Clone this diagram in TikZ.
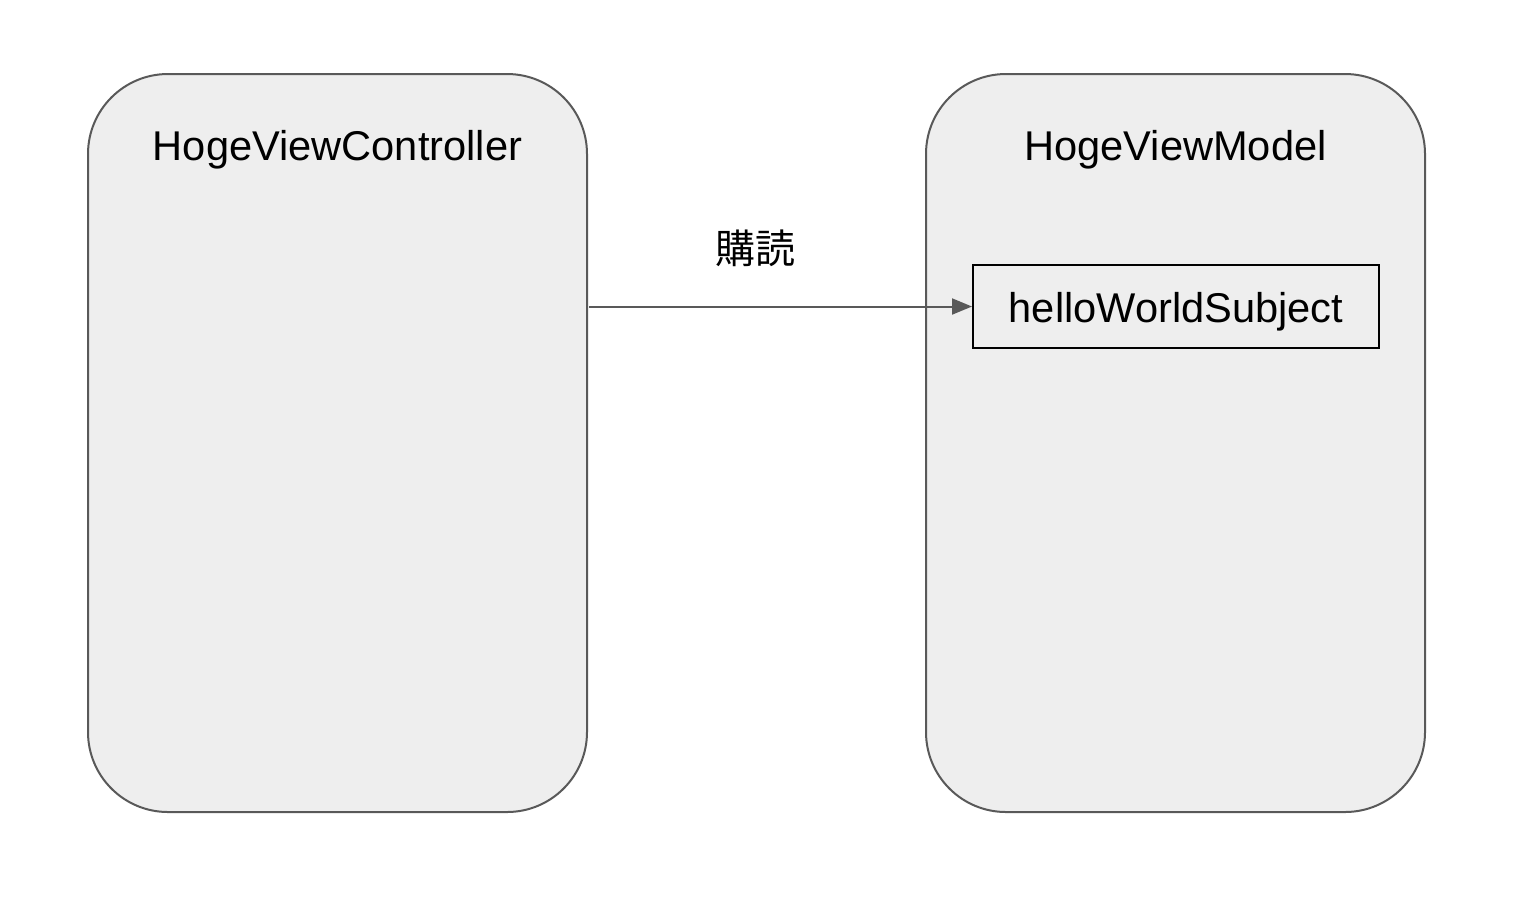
\documentclass[tikz,border=0pt]{standalone}
\usepackage{fontspec}
\setmainfont{Liberation Sans}
\newfontfamily\cjk{Noto Sans CJK JP}
\usetikzlibrary{arrows.meta}
\definecolor{boxfill}{HTML}{EEEEEE}
\definecolor{boxline}{HTML}{595959}
\tikzset{
  container/.style={draw=boxline, fill=boxfill, line width=1pt, rounded corners=40pt},
  inner/.style={draw=black, fill=boxfill, line width=1pt, minimum width=203pt, minimum height=41.5pt, inner sep=0pt},
  title/.style={anchor=base, inner sep=0pt, font=\fontsize{20.8pt}{24pt}\selectfont},
  conn/.style={draw=boxline, line width=1pt, -{Triangle[length=10pt,width=8pt]}},
  lbl/.style={inner sep=0pt, font=\cjk\fontsize{20pt}{24pt}\selectfont}
}
\begin{document}
\begin{tikzpicture}[x=0.5pt,y=-0.5pt]
\useasboundingbox (0,0) rectangle (1518,912);
\draw[container] (88,74) rectangle (587,812);
\draw[container] (926,74) rectangle (1425,812);
\node[title] (hvc) at (337.5,160) {HogeViewController};
\node[title] (hvm) at (1175.5,160) {HogeViewModel};
\node[inner] (subj) at (1176,306.5) {};
\node[title] (subjlbl) at (1176,322) {helloWorldSubject};
\coordinate (src) at (589,306.5);
\draw[conn] (src) -- (subj.west);
\node[lbl] (sub) at (755,248) {購読};
\end{tikzpicture}
\end{document}
